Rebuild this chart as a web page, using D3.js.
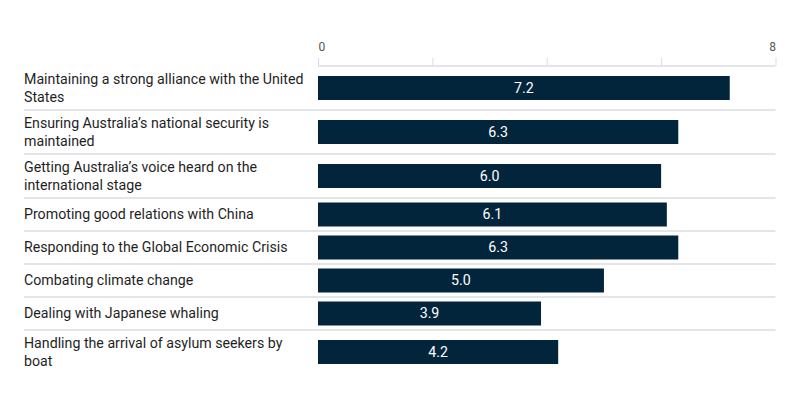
<!DOCTYPE html>
<html>
<head>
<meta charset="utf-8">
<script src="https://cdn.jsdelivr.net/npm/d3@7"></script>
<style>
  body { margin: 0; background: #fff; }
  svg { font-family: "Roboto", "Inter", sans-serif; }
</style>
</head>
<body>
<div id="vis"></div>
<script>
// data
var categories = [
  "Maintaining a strong alliance with the United States",
  "Ensuring Australia\u2019s national security is maintained",
  "Getting Australia\u2019s voice heard on the international stage",
  "Promoting good relations with China",
  "Responding to the Global Economic Crisis",
  "Combating climate change",
  "Dealing with Japanese whaling",
  "Handling the arrival of asylum seekers by boat"
];
var values = [7.2, 6.3, 6.0, 6.1, 6.3, 5.0, 3.9, 4.2];
var tickValues = [0, 2, 4, 6, 8];
var tickLabels = ["0", "", "", "", "8"];

// SVG geometry
var width = 800;
var height = 403;
var labelX = 24;
var labelWidth = 290;
var top0 = 66;
var lineH = 18;
var barH = 24;
var fontSize = 14.2;

var svg = d3.select('#vis')
  .append("svg")
  .attr('width', width)
  .attr('height', height);

var x = d3.scaleLinear()
  .domain([0, 8])
  .range([318, 775.5]);

// wrap labels first so row heights follow the number of lines
var measure = svg.append("text")
  .attr("font-size", fontSize);

function wrap(str) {
  var words = str.split(" "), lines = [], cur = "";
  words.forEach(function(w) {
    var test = cur ? cur + " " + w : w;
    measure.text(test);
    if (measure.node().getComputedTextLength() > labelWidth && cur) {
      lines.push(cur);
      cur = w;
    } else {
      cur = test;
    }
  });
  lines.push(cur);
  return lines;
}

var rows = [];
var y = top0;
categories.forEach(function(c, i) {
  var lines = wrap(c);
  var h = lines.length > 1 ? 44 : 33;
  rows.push({ name: c, value: values[i], lines: lines, y: y, h: h });
  y += h;
});
measure.remove();

// axis
var axis = svg.append("g")
  .attr("transform", "translate(0," + top0 + ")")
  .call(d3.axisTop(x)
    .tickValues(tickValues)
    .tickSize(8)
    .tickPadding(7)
    .tickFormat(function(d, i) { return tickLabels[i]; }));

axis.select(".domain").remove();
axis.selectAll(".tick line")
  .attr("stroke", "#d9dde2");
axis.selectAll(".tick text")
  .attr("fill", "#555")
  .attr("font-size", 12)
  .attr("font-family", "Roboto, sans-serif")
  .attr("text-anchor", function(d) {
    return d === 0 ? "start" : d === 8 ? "end" : "middle";
  });

axis.append("line")
  .attr("x1", x(0))
  .attr("x2", x(8))
  .attr("stroke", "#d9dde2")
  .attr("stroke-width", 1.5);

// rows
var row = svg.selectAll(".row")
  .data(rows)
  .enter()
  .append("g")
  .attr("class", "row")
  .attr("transform", function(d) { return "translate(0," + d.y + ")"; });

row.filter(function(d, i) { return i > 0; })
  .append("line")
  .attr("x1", labelX)
  .attr("x2", x(8))
  .attr("stroke", "#e2e6ea")
  .attr("stroke-width", 2);

row.append("text")
  .attr("fill", "#1f1f1f")
  .attr("font-size", fontSize)
  .each(function(d) {
    var t = d3.select(this);
    var y0 = d.h / 2 - (d.lines.length - 1) * lineH / 2;
    d.lines.forEach(function(l, k) {
      t.append("tspan")
        .attr("x", labelX)
        .attr("y", y0 + k * lineH)
        .attr("dy", "0.35em")
        .text(l);
    });
  });

row.append("rect")
  .attr("x", x(0))
  .attr("y", function(d) { return d.h / 2 - barH / 2; })
  .attr("width", function(d) { return x(d.value) - x(0); })
  .attr("height", barH)
  .attr("fill", "#03253c");

row.append("text")
  .attr("x", function(d) { return (x(0) + x(d.value)) / 2; })
  .attr("y", function(d) { return d.h / 2; })
  .attr("dy", "0.35em")
  .attr("text-anchor", "middle")
  .attr("fill", "#fff")
  .attr("font-size", fontSize)
  .text(function(d) { return d.value.toFixed(1); });
</script>
</body>
</html>
